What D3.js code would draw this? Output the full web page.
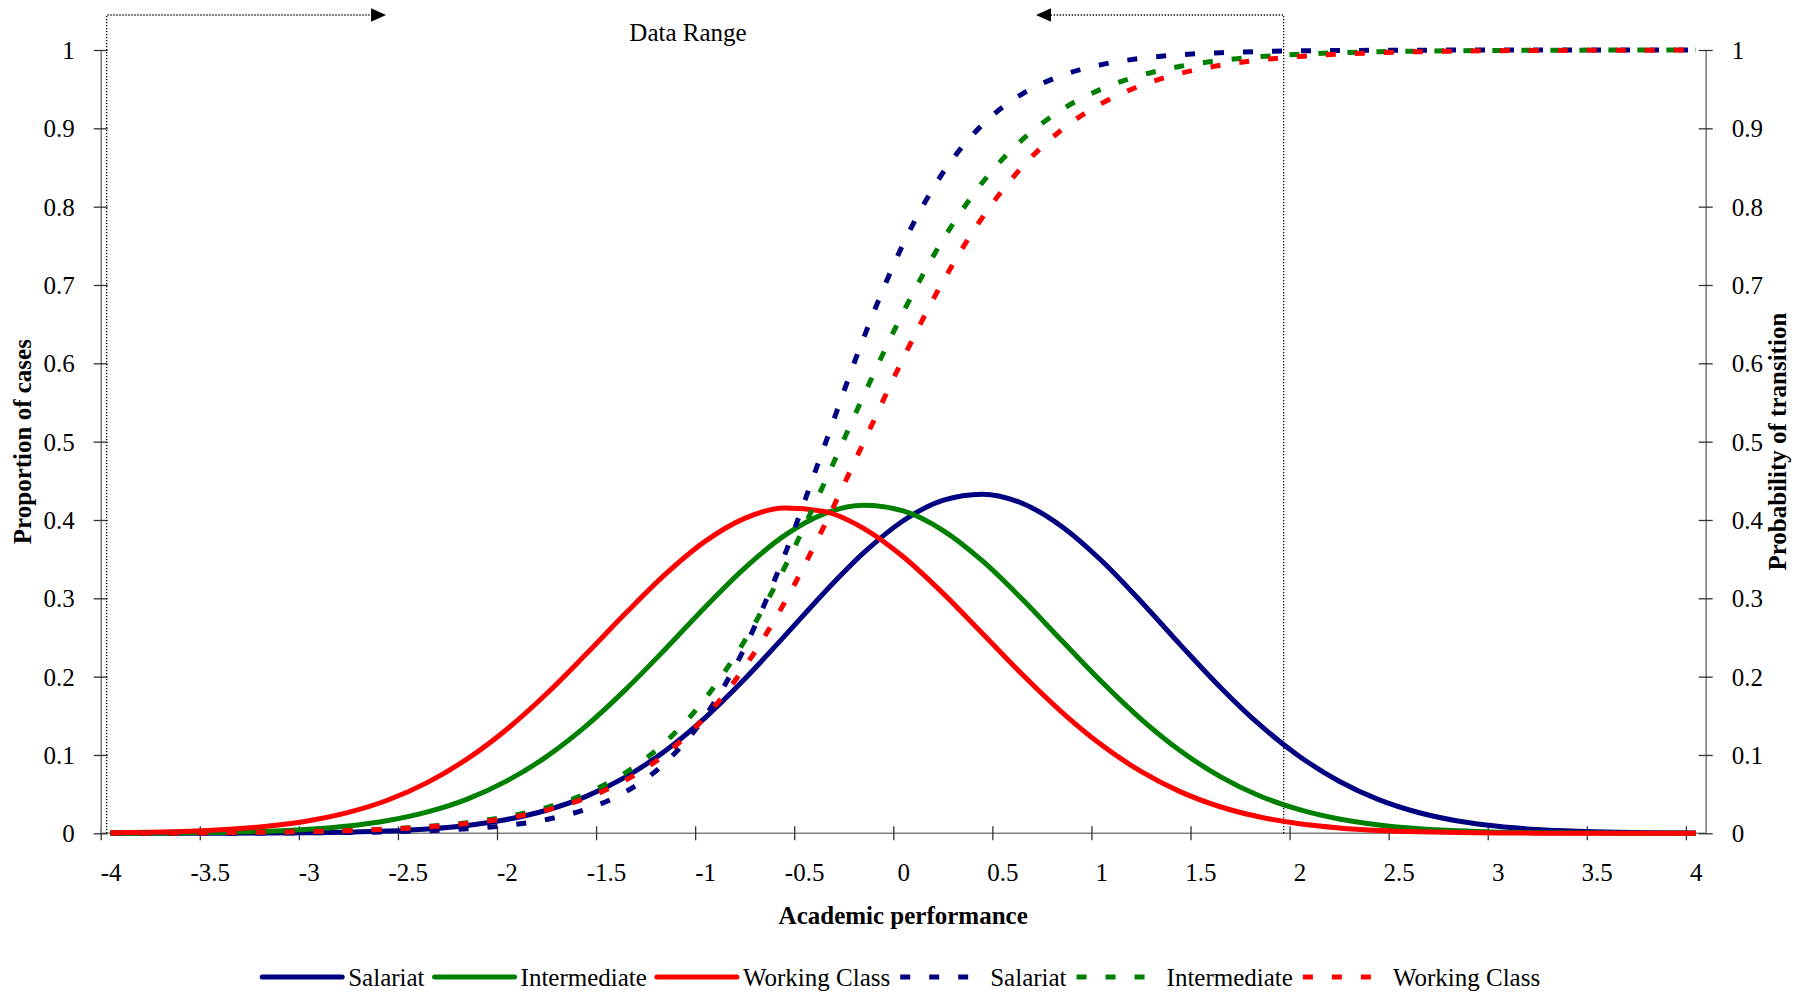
<!DOCTYPE html>
<html>
<head>
<meta charset="utf-8">
<script src="https://cdn.jsdelivr.net/npm/d3@7"></script>
<style>
  body { margin: 0; background: #fff; }
  svg text { font-family: "Liberation Serif", "Times New Roman", serif; fill: #000; }
</style>
</head>
<body>
<div id="chart"></div>
<script>
var svgWidth = 1814;
var svgHeight = 996;

// academic performance values (x)
var xValues = [-4, -3.8, -3.6, -3.4, -3.2, -3, -2.8, -2.6, -2.4, -2.2, -2, -1.8, -1.6, -1.4, -1.2, -1,
  -0.8, -0.6, -0.4, -0.2, 0, 0.2, 0.4, 0.6, 0.8, 1, 1.2, 1.4, 1.6, 1.8, 2, 2.2, 2.4, 2.6, 2.8, 3,
  3.2, 3.4, 3.6, 3.8, 4];

// proportion of cases (solid lines)
var salariatCases = [0, 0, 0.0001, 0.0001, 0.0003, 0.0007, 0.0014, 0.0028, 0.0055, 0.0100, 0.0176,
  0.0294, 0.0471, 0.0721, 0.1054, 0.1474, 0.1969, 0.2514, 0.3069, 0.3579, 0.3990, 0.4251, 0.4329,
  0.4213, 0.3918, 0.3483, 0.2960, 0.2403, 0.1865, 0.1383, 0.0981, 0.0665, 0.0430, 0.0266, 0.0157,
  0.0089, 0.0048, 0.0025, 0.0012, 0.0006, 0.0003];
var intermediateCases = [0.0001, 0.0003, 0.0006, 0.0013, 0.0027, 0.0051, 0.0093, 0.0163, 0.0273,
  0.0437, 0.0669, 0.0979, 0.1371, 0.1837, 0.2354, 0.2887, 0.3386, 0.3800, 0.4079, 0.4189, 0.4115,
  0.3868, 0.3477, 0.2991, 0.2461, 0.1937, 0.1459, 0.1051, 0.0724, 0.0477, 0.0301, 0.0182, 0.0105,
  0.0058, 0.0031, 0.0015, 0.0007, 0.0003, 0.0002, 0.0001, 0];
var workingCases = [0.0007, 0.0014, 0.0027, 0.0051, 0.0092, 0.0160, 0.0267, 0.0425, 0.0650, 0.0950,
  0.1329, 0.1782, 0.2288, 0.2811, 0.3308, 0.3727, 0.4021, 0.4154, 0.4110, 0.3893, 0.3530, 0.3066,
  0.2550, 0.2030, 0.1548, 0.1130, 0.0790, 0.0529, 0.0339, 0.0208, 0.0122, 0.0069, 0.0037, 0.0019,
  0.0009, 0.0004, 0.0002, 0.0001, 0, 0, 0];

// probability of transition (dashed lines)
var salariatProb = [0, 0.0001, 0.0001, 0.0002, 0.0003, 0.0006, 0.0010, 0.0018, 0.0032, 0.0057, 0.0100,
  0.0176, 0.0308, 0.0531, 0.0903, 0.1493, 0.2369, 0.3543, 0.4929, 0.6322, 0.7524, 0.8431, 0.9047,
  0.9438, 0.9674, 0.9813, 0.9894, 0.9940, 0.9966, 0.9981, 0.9989, 0.9994, 0.9996, 0.9998, 0.9999,
  0.9999, 1, 1, 1, 1, 1];
var intermediateProb = [0.0002, 0.0004, 0.0006, 0.0009, 0.0014, 0.0023, 0.0035, 0.0055, 0.0087, 0.0136,
  0.0212, 0.0329, 0.0507, 0.0775, 0.1166, 0.1718, 0.2459, 0.3387, 0.4460, 0.5585, 0.6653, 0.7575,
  0.8308, 0.8853, 0.9238, 0.9501, 0.9677, 0.9792, 0.9867, 0.9915, 0.9946, 0.9965, 0.9978, 0.9986,
  0.9991, 0.9994, 0.9996, 0.9998, 0.9999, 0.9999, 0.9999];
var workingProb = [0.0003, 0.0004, 0.0006, 0.0009, 0.0014, 0.0022, 0.0034, 0.0053, 0.0082, 0.0126,
  0.0193, 0.0296, 0.0450, 0.0679, 0.1012, 0.1483, 0.2122, 0.2940, 0.3917, 0.4989, 0.6063, 0.7042,
  0.7864, 0.8506, 0.8981, 0.9316, 0.9547, 0.9702, 0.9805, 0.9873, 0.9918, 0.9947, 0.9965, 0.9978,
  0.9986, 0.9991, 0.9994, 0.9996, 0.9997, 0.9998, 0.9999];

var xTicks = [-4, -3.5, -3, -2.5, -2, -1.5, -1, -0.5, 0, 0.5, 1, 1.5, 2, 2.5, 3, 3.5, 4];
var yTicks = [0, 0.1, 0.2, 0.3, 0.4, 0.5, 0.6, 0.7, 0.8, 0.9, 1];

var seriesNames = ["Salariat", "Intermediate", "Working Class"];
var seriesColors = ["#000080", "#008000", "#ff0000"];

// "Data Range" annotation, in academic performance units
var dataRange = [-4.02, 1.92];
var arrowTips = [-2.61, 0.67];

var plot = { left: 100.7, right: 1705.7, top: 50, bottom: 833.3 };
var halfCat = 0.05; // category axis: ticks sit half a category left of the labels

var svg = d3.select("#chart")
  .append("svg")
  .attr("width", svgWidth)
  .attr("height", svgHeight);

var xScale = d3.scaleLinear()
  .domain([-4.05, 4.05])
  .range([plot.left, plot.right]);

var tickScale = d3.scaleLinear()
  .domain([-4.05 + halfCat, 4.05 + halfCat])
  .range([plot.left, plot.right]);

var yScale = d3.scaleLinear()
  .domain([0, 1])
  .range([plot.bottom, plot.top]);

var fontSize = 25;
var labelShift = xScale(halfCat) - xScale(0);

// x axis
var xAxis = svg.append("g")
  .attr("transform", `translate(0, ${plot.bottom})`)
  .call(d3.axisBottom(tickScale).tickValues(xTicks).tickFormat(d => String(d)).tickSizeOuter(0));
xAxis.select(".domain").attr("stroke", "#808080").attr("stroke-width", 1.6)
  .attr("d", `M${plot.left},0H${plot.right}`);
xAxis.selectAll(".tick line").attr("y1", -7).attr("y2", 7).attr("stroke", "#333").attr("stroke-width", 1.3);
xAxis.selectAll(".tick text")
  .attr("x", labelShift)
  .attr("y", 48)
  .attr("dy", 0)
  .style("font-size", fontSize + "px");

// left y axis
var leftAxis = svg.append("g")
  .attr("transform", `translate(${plot.left}, 0)`)
  .call(d3.axisLeft(yScale).tickValues(yTicks).tickFormat(d => String(d)).tickSizeOuter(0).tickPadding(20));
leftAxis.select(".domain").attr("stroke", "#808080").attr("stroke-width", 1.6);
leftAxis.selectAll(".tick line").attr("x1", -7).attr("x2", 7).attr("stroke", "#333").attr("stroke-width", 1.3);
leftAxis.selectAll(".tick text").attr("dy", "0.34em").style("font-size", fontSize + "px");

// right y axis
var rightAxis = svg.append("g")
  .attr("transform", `translate(${plot.right}, 0)`)
  .call(d3.axisRight(yScale).tickValues(yTicks).tickFormat(d => String(d)).tickSizeOuter(0).tickPadding(20));
rightAxis.select(".domain").attr("stroke", "#808080").attr("stroke-width", 1.6);
rightAxis.selectAll(".tick line").attr("x1", -7).attr("x2", 7).attr("stroke", "#333").attr("stroke-width", 1.3);
rightAxis.selectAll(".tick text").attr("dy", "0.34em").style("font-size", fontSize + "px");

svg.selectAll(".tick text").attr("fill", "#000").style("font-family", '"Liberation Serif", "Times New Roman", serif');

// axis titles
svg.append("text")
  .attr("x", (plot.left + plot.right) / 2)
  .attr("y", 924)
  .attr("text-anchor", "middle")
  .style("font-size", fontSize + "px")
  .style("font-weight", "bold")
  .text("Academic performance");

svg.append("text")
  .attr("transform", `translate(31, ${(plot.top + plot.bottom) / 2}) rotate(-90)`)
  .attr("text-anchor", "middle")
  .style("font-size", fontSize + "px")
  .style("font-weight", "bold")
  .text("Proportion of cases");

svg.append("text")
  .attr("transform", `translate(1786, ${(plot.top + plot.bottom) / 2}) rotate(-90)`)
  .attr("text-anchor", "middle")
  .style("font-size", fontSize + "px")
  .style("font-weight", "bold")
  .text("Probability of transition");

// data range annotation
var topY = 15;
var rangeGroup = svg.append("g")
  .attr("fill", "none")
  .attr("stroke", "#000")
  .attr("stroke-width", 1.3)
  .attr("stroke-dasharray", "1.3,1.7");

rangeGroup.append("path")
  .attr("d", `M${xScale(dataRange[0])},${plot.bottom}V${topY}H${xScale(arrowTips[0]) - 14}`);
rangeGroup.append("path")
  .attr("d", `M${xScale(dataRange[1])},${plot.bottom}V${topY}H${xScale(arrowTips[1]) + 14}`);

svg.append("path")
  .attr("d", `M${xScale(arrowTips[0])},${topY}l-15,-6.7v13.4z`)
  .attr("fill", "#000");
svg.append("path")
  .attr("d", `M${xScale(arrowTips[1])},${topY}l15,-6.7v13.4z`)
  .attr("fill", "#000");

svg.append("text")
  .attr("x", 688)
  .attr("y", 41)
  .attr("text-anchor", "middle")
  .style("font-size", fontSize + "px")
  .text("Data Range");

// lines
var line = d3.line()
  .x((d, i) => xScale(xValues[i]))
  .y(d => yScale(d))
  .curve(d3.curveMonotoneX);

var solidSeries = [salariatCases, intermediateCases, workingCases];
var dashedSeries = [salariatProb, intermediateProb, workingProb];

svg.append("g").selectAll("path")
  .data(solidSeries)
  .enter()
  .append("path")
  .attr("d", d => line(d))
  .attr("fill", "none")
  .attr("stroke", (d, i) => seriesColors[i])
  .attr("stroke-width", 5)
  .attr("stroke-linejoin", "round");

svg.append("g").selectAll("path")
  .data(dashedSeries)
  .enter()
  .append("path")
  .attr("d", d => line(d))
  .attr("fill", "none")
  .attr("stroke", (d, i) => seriesColors[i])
  .attr("stroke-width", 5)
  .attr("stroke-dasharray", "10,19");

// legend
var legendItems = [];
seriesNames.forEach((name, i) => legendItems.push({ name: name, color: seriesColors[i], dashed: false }));
seriesNames.forEach((name, i) => legendItems.push({ name: name, color: seriesColors[i], dashed: true }));

var legend = svg.append("g");
var legendY = 977;
var lineLen = 80;
var itemGap = 10;
var cursor = 0;
legendItems.forEach(function(item) {
  var g = legend.append("g").attr("transform", `translate(${cursor}, 0)`);
  g.append("line")
    .attr("x1", 0).attr("x2", lineLen)
    .attr("y1", legendY).attr("y2", legendY)
    .attr("stroke", item.color)
    .attr("stroke-width", 5)
    .attr("stroke-linecap", item.dashed ? "butt" : "round")
    .attr("stroke-dasharray", item.dashed ? "10,19" : null);
  var t = g.append("text")
    .attr("x", lineLen + (item.dashed ? 10 : 6))
    .attr("y", legendY + 9)
    .style("font-size", fontSize + "px")
    .text(item.name);
  cursor += lineLen + (item.dashed ? 10 : 6) + t.node().getComputedTextLength() + itemGap;
});
legend.attr("transform", `translate(${(plot.left + plot.right) / 2 - 2 - (cursor - itemGap) / 2}, 0)`);
</script>
</body>
</html>
